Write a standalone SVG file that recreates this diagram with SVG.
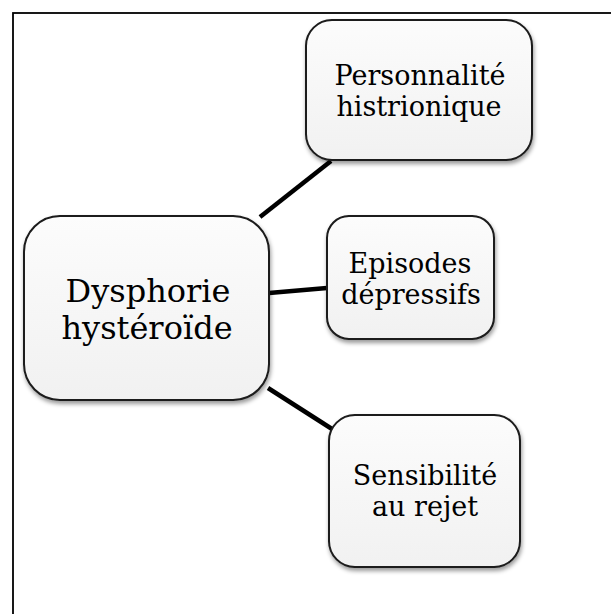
<svg xmlns="http://www.w3.org/2000/svg" width="611" height="614" viewBox="0 0 611 614">
<defs>
<linearGradient id="g" x1="0" y1="0" x2="0" y2="1">
<stop offset="0" stop-color="#fcfcfc"/>
<stop offset="1" stop-color="#f1f1f1"/>
</linearGradient>
<filter id="sh" x="-10%" y="-10%" width="120%" height="125%">
<feDropShadow dx="1" dy="3" stdDeviation="2" flood-color="#000" flood-opacity="0.4"/>
</filter>
</defs>
<style>
.box{fill:url(#g);stroke:#1a1a1a;stroke-width:2;filter:url(#sh)}
.t{font-family:"DejaVu Serif","Liberation Serif",serif;fill:#000;text-anchor:middle}
.c{stroke:#000;stroke-width:4.5;fill:none}
.s{font-size:27px}
.l{font-size:32px}
</style>
<rect x="13" y="13" width="620" height="620" fill="#fff" stroke="#000" stroke-width="1.8"/>
<g id="connectors">
<line class="c" x1="260" y1="217" x2="331" y2="161"/>
<line class="c" x1="269" y1="293" x2="327" y2="288"/>
<line class="c" x1="268" y1="388" x2="332" y2="429"/>
</g>
<g id="n-center">
<rect class="box" x="24" y="216" width="245" height="184" rx="36"/>
<text class="t l" x="148" y="302">Dysphorie</text>
<text class="t l" x="147" y="339">hystéroïde</text>
</g>
<g id="n-histrionique">
<rect class="box" x="306" y="20" width="226" height="140" rx="26"/>
<text class="t s" x="420" y="85">Personnalité</text>
<text class="t s" x="419" y="116">histrionique</text>
</g>
<g id="n-episodes">
<rect class="box" x="327" y="216" width="167" height="123" rx="22"/>
<text class="t s" x="410" y="273">Episodes</text>
<text class="t s" x="411" y="304">dépressifs</text>
</g>
<g id="n-rejet">
<rect class="box" x="329" y="415" width="191" height="152" rx="26"/>
<text class="t s" x="425" y="485">Sensibilité</text>
<text class="t s" x="425" y="516">au rejet</text>
</g>
</svg>
